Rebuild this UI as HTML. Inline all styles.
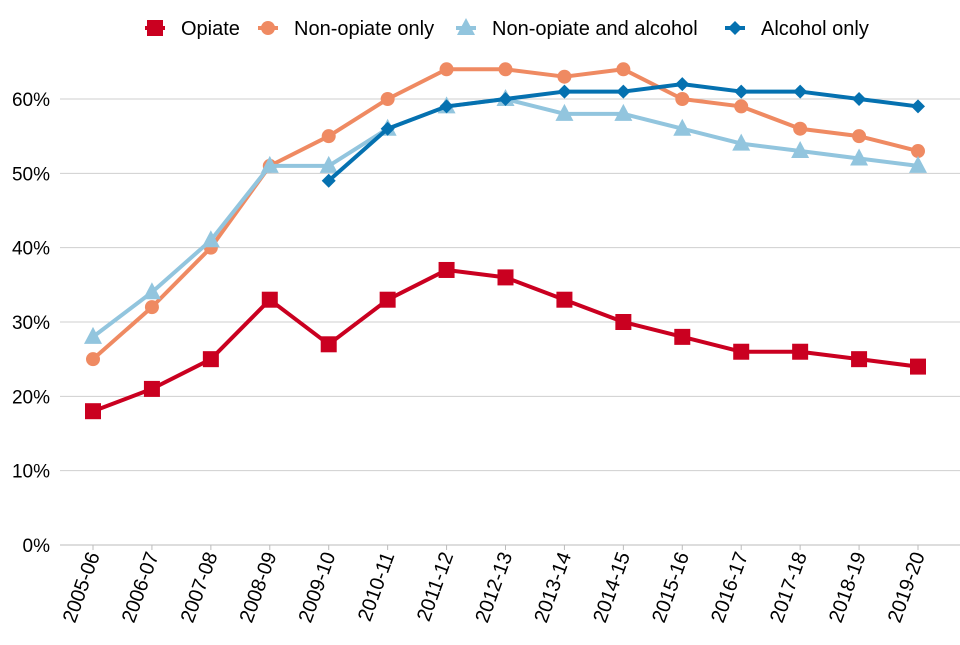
<!DOCTYPE html>
<html><head><meta charset="utf-8"><style>
body{margin:0;background:#fff;font-family:"Liberation Sans",Arial,sans-serif;}
svg text{font-family:"Liberation Sans",Arial,sans-serif;fill:#000;}
</style></head><body>
<svg id="chart" width="960" height="640"></svg>
<script>
const categories=["2005-06","2006-07","2007-08","2008-09","2009-10","2010-11","2011-12","2012-13","2013-14","2014-15","2015-16","2016-17","2017-18","2018-19","2019-20"];
const opiate=[18,21,25,33,27,33,37,36,33,30,28,26,26,25,24];
const nonOpiate=[25,32,40,51,55,60,64,64,63,64,60,59,56,55,53];
const nonOpiateAlcohol=[28,34,41,51,51,56,59,60,58,58,56,54,53,52,51];
const alcoholOnly=[null,null,null,null,49,56,59,60,61,61,62,61,61,60,59];
const yTicks=[0,10,20,30,40,50,60];
const yTickLabels=["0%","10%","20%","30%","40%","50%","60%"];

const NS="http://www.w3.org/2000/svg";
const svg=document.getElementById('chart');
const x=i=>93+i*(918-93)/(categories.length-1);
const y=v=>545-v*(545-99)/60;
function mk(tag,attrs,parent){const e=document.createElementNS(NS,tag);for(const k in attrs)e.setAttribute(k,attrs[k]);(parent||svg).appendChild(e);return e;}

yTicks.forEach((t,i)=>{
  const g=mk('line',{x1:60,x2:960,y1:y(t),y2:y(t),stroke:t===0?'#bbb':'#cfcfcf','stroke-width':1});
  
  
  const tx=mk('text',{x:50,y:y(t)+7,'text-anchor':'end','font-size':19});
  tx.textContent=yTickLabels[i];
  
  
});
categories.forEach((c,i)=>{
  const tk=mk('line',{x1:x(i),x2:x(i),y1:545,y2:550,stroke:'#bbb'});
  
  
  const tx=mk('text',{x:0,y:0,'text-anchor':'end','font-size':20,transform:`translate(${x(i)+7},555) rotate(-70)`});
  tx.textContent=c;
  
  
});

function marker(type,cx,cy,color,parent){
  let e;
  if(type==='square')e=mk('rect',{x:cx-8,y:cy-8,width:16,height:16,fill:color},parent);
  else if(type==='circle')e=mk('circle',{cx,cy,r:7,fill:color},parent);
  else if(type==='triangle')e=mk('polygon',{points:`${cx},${cy-10} ${cx+9},${cy+7} ${cx-9},${cy+7}`,fill:color},parent);
  else e=mk('polygon',{points:`${cx},${cy-7} ${cx+7},${cy} ${cx},${cy+7} ${cx-7},${cy}`,fill:color},parent);
  return e;
}
const series=[
  {name:'Opiate',data:opiate,color:'#ca0020',m:'square',key:'opiate'},
  {name:'Non-opiate only',data:nonOpiate,color:'#ef8a62',m:'circle',key:'non-opiate-only'},
  {name:'Non-opiate and alcohol',data:nonOpiateAlcohol,color:'#92c5de',m:'triangle',key:'non-opiate-and-alcohol'},
  {name:'Alcohol only',data:alcoholOnly,color:'#0571b0',m:'diamond',key:'alcohol-only'}
];
series.forEach(s=>{
  const g=mk('g',{});
  
  
  const pts=[];s.data.forEach((v,i)=>{if(v!==null)pts.push(x(i)+','+y(v));});
  const pl=mk('polyline',{points:pts.join(' '),fill:'none',stroke:s.color,'stroke-width':4,'stroke-linejoin':'round'},g);
  
  
  s.data.forEach((v,i)=>{if(v===null)return;
    const mm=marker(s.m,x(i),y(v),s.color,g);
    
    
  });
});
const legendX=[155,268,466,735];
series.forEach((s,i)=>{
  const g=mk('g',{});
  
  
  mk('line',{x1:legendX[i]-10,x2:legendX[i]+10,y1:28,y2:28,stroke:s.color,'stroke-width':4},g);
  marker(s.m,legendX[i],28,s.color,g);
  const t=mk('text',{x:legendX[i]+26,y:35,'font-size':20},g);
  t.textContent=s.name;
});
</script>
</body></html>
